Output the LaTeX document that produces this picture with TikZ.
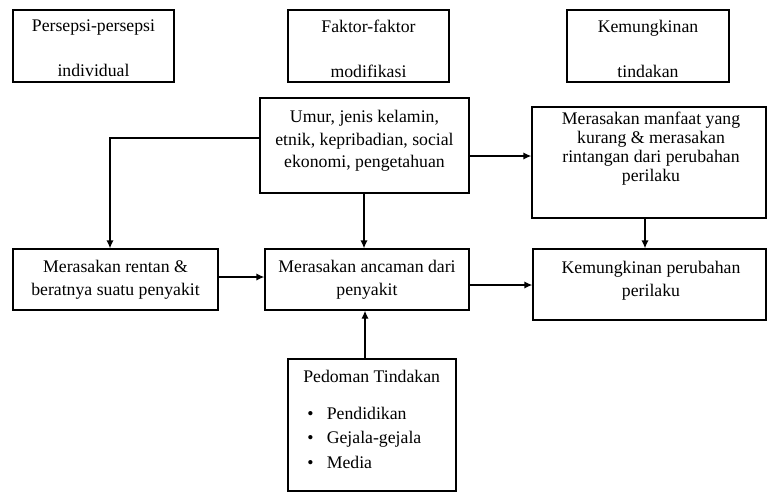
\documentclass[tikz,border=0pt]{standalone}
\usepackage{fontspec}
\setmainfont{Liberation Serif}
\usetikzlibrary{arrows.meta,positioning,fit}

\begin{document}
\begin{tikzpicture}[
  x=0.75pt,y=-0.75pt,
  frame/.style={draw,line width=1pt,inner sep=0pt},
  words/.style={font=\fontsize{13.3}{17}\selectfont,align=center,inner sep=0pt},
  head/.style={words,font=\fontsize{13.3}{33.8}\selectfont},
  tight/.style={words,font=\fontsize{13.3}{14.2}\selectfont},
  arrow/.style={-{Latex[length=6pt,width=5.5pt]},line width=1pt}
]
\useasboundingbox (0,0) rectangle (767,493);
\node[frame,fit={(13,10) (174,82)}] (persepsi) {};
\node[frame,fit={(288,10) (449,82)}] (faktor) {};
\node[frame,fit={(567,10) (729,82)}] (tindakan) {};
\node[head] (persepsiT) at (93.5,48.5) {Persepsi-persepsi\\individual};
\node[head] (faktorT) at (368.5,48.5) {Faktor-faktor\\modifikasi};
\node[head] (tindakanT) at (648,48.5) {Kemungkinan\\tindakan};

\node[frame,fit={(260,98) (469,193)}] (umur) {};
\node[frame,fit={(532,107) (766,218)}] (manfaat) {};
\node[frame,fit={(13,249) (218,310)}] (rentan) {};
\node[frame,fit={(265,249) (469,310)}] (ancaman) {};
\node[frame,fit={(533,249) (766,320)}] (perubahan) {};
\node[frame,fit={(288,359) (456,491)}] (pedoman) {};

\node[words] (umurT) at (364.5,141) {Umur, jenis kelamin,\\etnik, kepribadian, social\\ekonomi, pengetahuan};
\node[tight] (manfaatT) at (651,149) {Merasakan manfaat yang\\kurang \& merasakan\\rintangan dari perubahan\\perilaku};
\node[words] (rentanT) at (115.5,280) {Merasakan rentan \&\\beratnya suatu penyakit};
\node[words] (ancamanT) at (367,280) {Merasakan ancaman dari\\penyakit};
\node[words] (perubahanT) at (651,281) {Kemungkinan perubahan\\perilaku};
\node[words,align=left,anchor=north west,font=\fontsize{13.3}{18.4}\selectfont] (pedomanT) at (303,370)
  {Pedoman Tindakan\\[9pt]
   \hspace*{3pt}\textbullet\hspace*{10pt}Pendidikan\\
   \hspace*{3pt}\textbullet\hspace*{10pt}Gejala-gejala\\
   \hspace*{3pt}\textbullet\hspace*{10pt}Media};

\draw[arrow] (umur.west |- 0,138) -| (rentan.north -| 110,0);
\draw[arrow] (umur.south -| 364,0) -- (ancaman.north -| 364,0);
\draw[arrow] (umur.east |- 0,156) -- (manfaat.west |- 0,156);
\draw[arrow] (manfaat.south -| 645,0) -- (perubahan.north -| 645,0);
\draw[arrow] (rentan.east |- 0,277) -- (ancaman.west |- 0,277);
\draw[arrow] (ancaman.east |- 0,285) -- (perubahan.west |- 0,285);
\draw[arrow] (pedoman.north -| 365,0) -- (ancaman.south -| 365,0);
\end{tikzpicture}
\end{document}
